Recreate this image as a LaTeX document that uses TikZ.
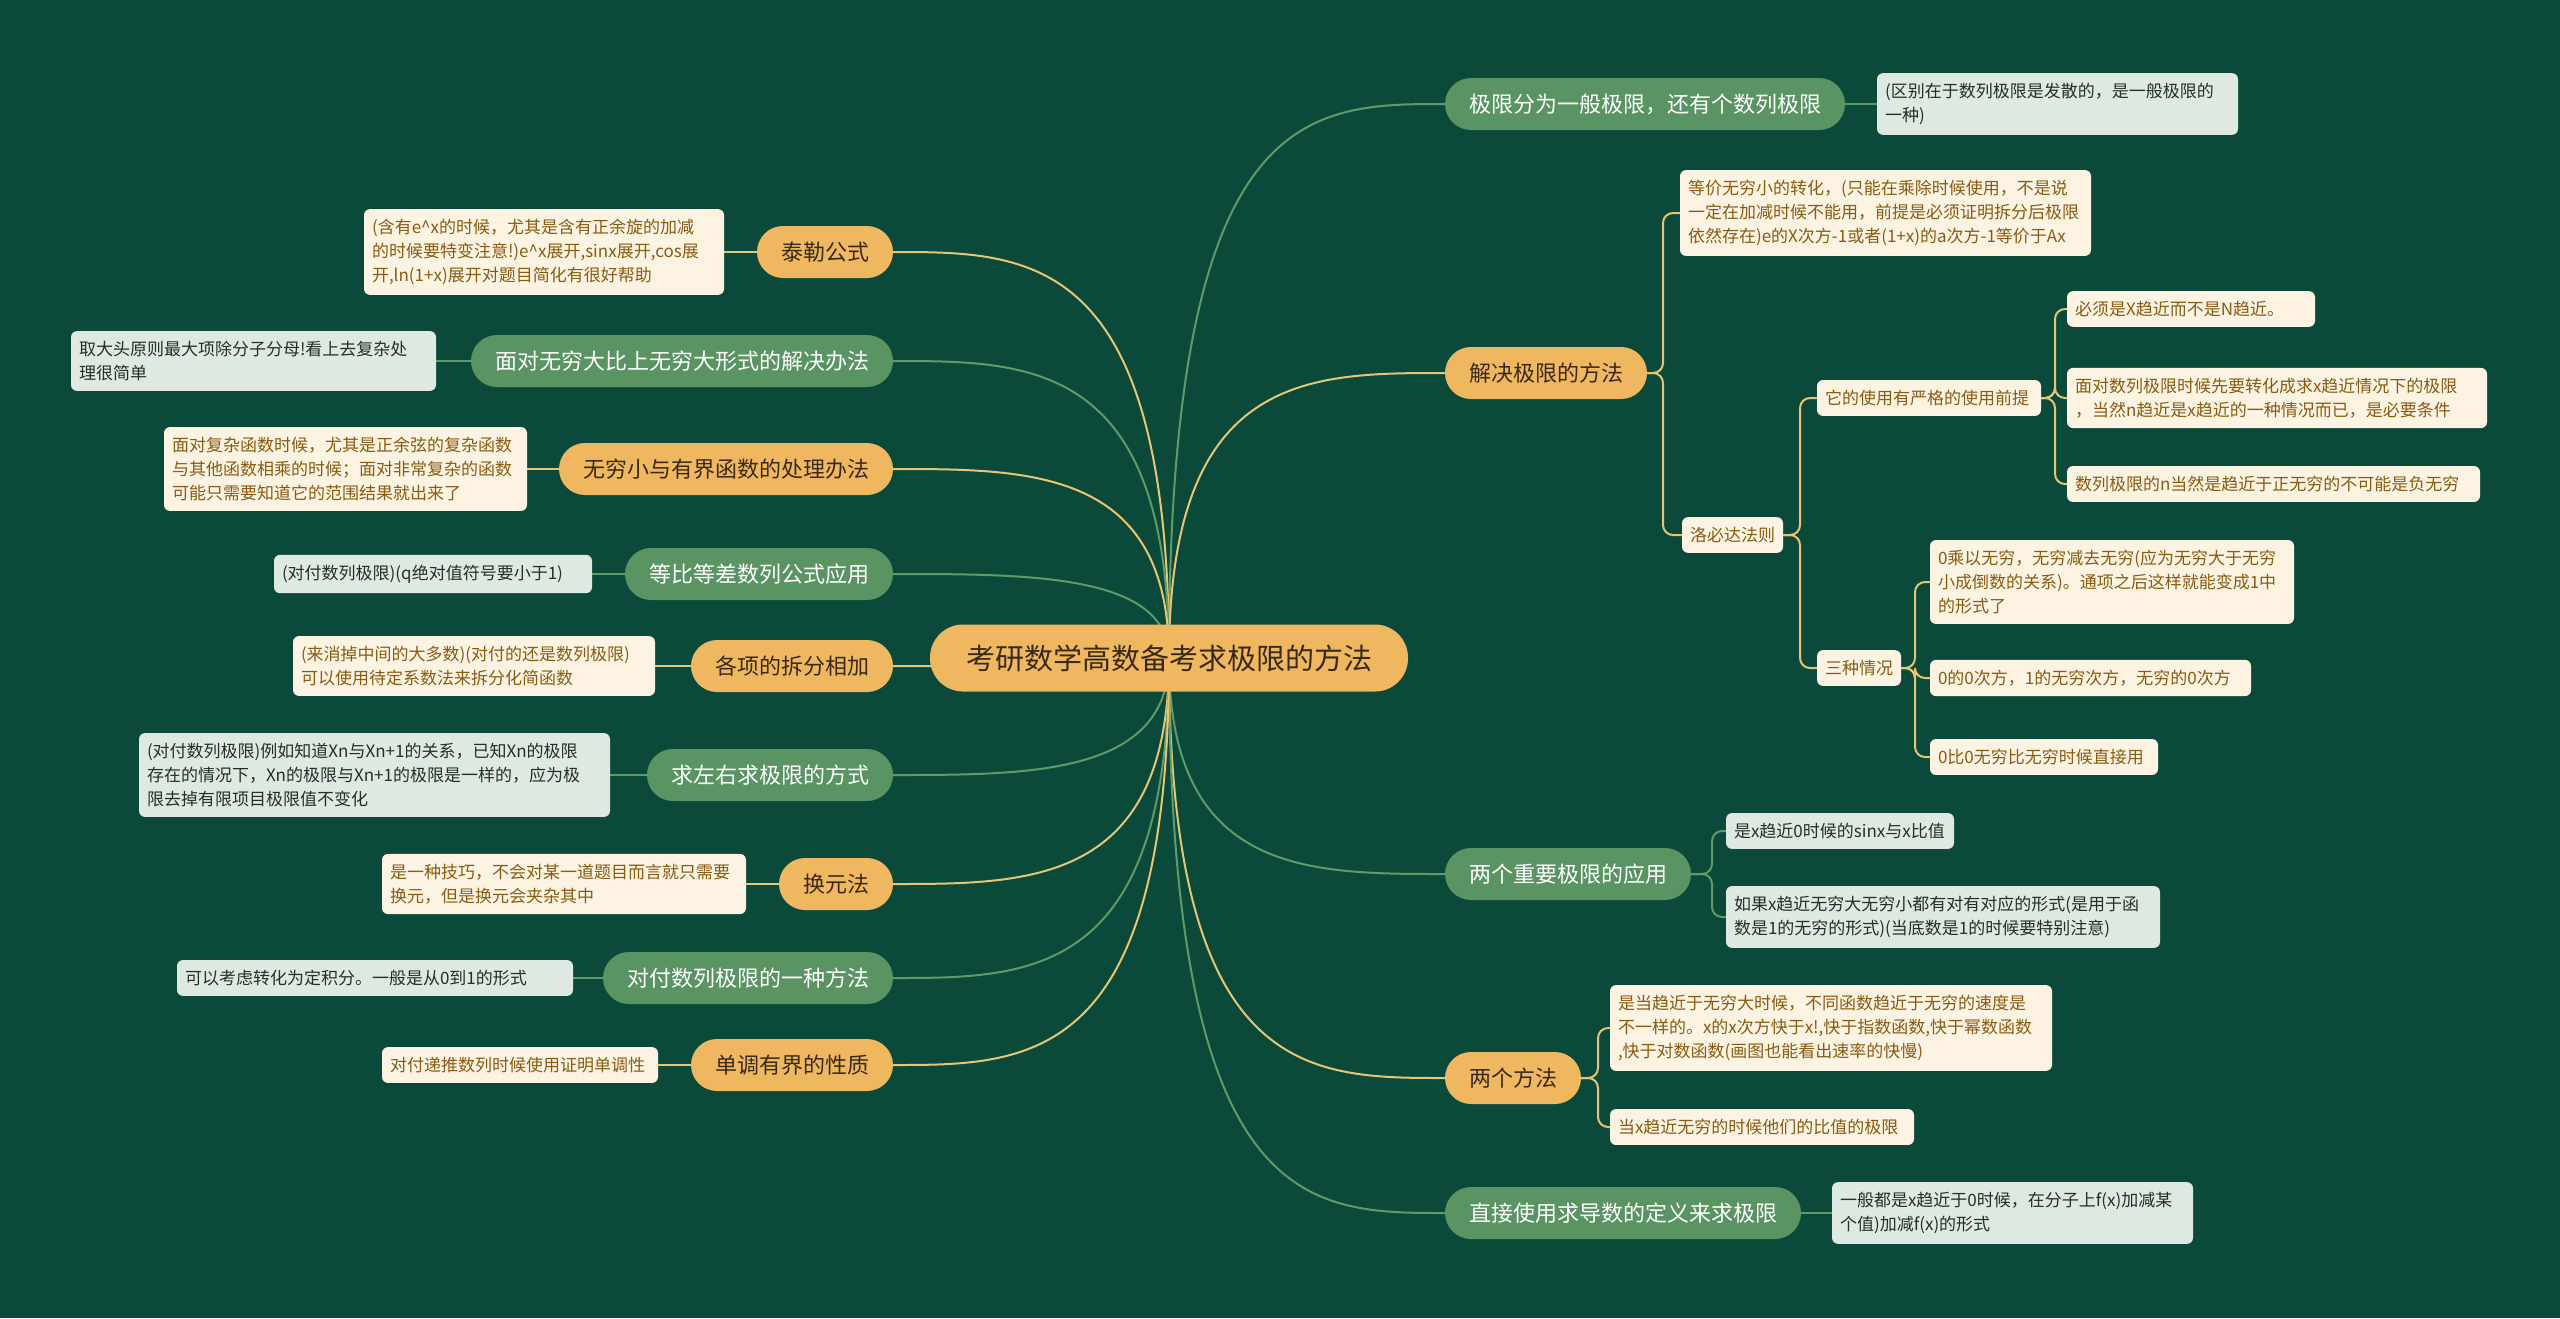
\documentclass[tikz,border=0pt]{standalone}
\usepackage{fontspec}
\setmainfont{Noto Sans CJK SC}
\usetikzlibrary{positioning,calc,backgrounds}
\definecolor{board}{HTML}{0B4A3A}
\definecolor{gold}{HTML}{EFB760}
\definecolor{goldline}{HTML}{E6C574}
\definecolor{leaf}{HTML}{5A9463}
\definecolor{leafline}{HTML}{5E9B68}
\definecolor{cream}{HTML}{FCF3E3}
\definecolor{creamtext}{HTML}{8A5B12}
\definecolor{mint}{HTML}{DEE9E1}
\definecolor{minttext}{HTML}{22302A}
\definecolor{ink}{HTML}{3A2A14}
\newcommand{\fontat}[2]{\fontsize{#1}{#2}\selectfont}

\begin{document}
\begin{tikzpicture}[x=1pt, y=-1pt,
  every node/.style={inner sep=0pt, outer sep=0pt},
  rootbox/.style={fill=gold, text=ink, rounded corners=33pt,
                  minimum height=67pt, inner xsep=36pt, font=\fontat{29}{34}},
  obranch/.style={fill=gold, text=ink, rounded corners=26pt,
                  minimum height=52pt, inner xsep=24pt, font=\fontat{22}{26}},
  gbranch/.style={obranch, fill=leaf, text=white},
  onote/.style={fill=cream, text=creamtext, rounded corners=6pt, align=left,
                inner xsep=8pt, inner ysep=10pt, font=\fontat{17}{24}},
  gnote/.style={onote, fill=mint, text=minttext},
  oline/.style={draw=goldline, line width=2pt},
  gline/.style={draw=leafline, line width=2pt},
  fork/.style={rounded corners=10pt}
]
  \node[rootbox] (root) at (1169,658) {考研数学高数备考求极限的方法};

  % right side
  \node[gbranch, anchor=west] (lim) at (1445,104) {极限分为一般极限，还有个数列极限};
  \node[obranch, anchor=west] (solve) at (1445,373) {解决极限的方法};
  \node[gbranch, anchor=west] (twolim) at (1445,874) {两个重要极限的应用};
  \node[obranch, anchor=west] (twoway) at (1445,1078) {两个方法};
  \node[gbranch, anchor=west] (deriv) at (1445,1213) {直接使用求导数的定义来求极限};

  \node[gnote, text width=345pt, right=32pt of lim] (limn)
    {(区别在于数列极限是发散的，是一般极限的\\一种)};
  \node[onote, text width=395pt, anchor=west] (eqv) at (1680,213)
    {等价无穷小的转化，(只能在乘除时候使用，不是说\\一定在加减时候不能用，前提是必须证明拆分后极限\\依然存在)e的X次方-1或者(1+x)的a次方-1等价于Ax};
  \node[onote, text width=85pt, anchor=west] (lhop) at (1682,535) {洛必达法则};
  \node[onote, text width=208pt, anchor=west] (cond) at (1817,398) {它的使用有严格的使用前提};
  \node[onote, text width=232pt, anchor=west] (cond1) at (2067,309) {必须是X趋近而不是N趋近。};
  \node[onote, text width=404pt, anchor=west] (cond2) at (2067,398)
    {面对数列极限时候先要转化成求x趋近情况下的极限\\，当然n趋近是x趋近的一种情况而已，是必要条件};
  \node[onote, text width=397pt, anchor=west] (cond3) at (2067,484) {数列极限的n当然是趋近于正无穷的不可能是负无穷};
  \node[onote, text width=68pt, anchor=west] (cases) at (1817,668) {三种情况};
  \node[onote, text width=348pt, anchor=west] (case1) at (1930,582)
    {0乘以无穷，无穷减去无穷(应为无穷大于无穷\\小成倒数的关系)。通项之后这样就能变成1中\\的形式了};
  \node[onote, text width=305pt, anchor=west] (case2) at (1930,678) {0的0次方，1的无穷次方，无穷的0次方};
  \node[onote, text width=212pt, anchor=west] (case3) at (1930,757) {0比0无穷比无穷时候直接用};
  \node[gnote, text width=212pt, anchor=west] (sinx) at (1726,831) {是x趋近0时候的sinx与x比值};
  \node[gnote, text width=418pt, anchor=west] (ifx) at (1726,917)
    {如果x趋近无穷大无穷小都有对有对应的形式(是用于函\\数是1的无穷的形式)(当底数是1的时候要特别注意)};
  \node[onote, text width=426pt, anchor=west] (speed) at (1610,1028)
    {是当趋近于无穷大时候，不同函数趋近于无穷的速度是\\不一样的。x的x次方快于x!,快于指数函数,快于幂数函数\\,快于对数函数(画图也能看出速率的快慢)};
  \node[onote, text width=288pt, anchor=west] (ratio) at (1610,1127) {当x趋近无穷的时候他们的比值的极限};
  \node[gnote, text width=345pt, right=31pt of deriv] (derivn)
    {一般都是x趋近于0时候，在分子上f(x)加减某\\个值)加减f(x)的形式};

  % left side
  \node[obranch, anchor=east] (taylor) at (893,252) {泰勒公式};
  \node[gbranch, anchor=east] (infinf) at (893,361) {面对无穷大比上无穷大形式的解决办法};
  \node[obranch, anchor=east] (bounded) at (893,469) {无穷小与有界函数的处理办法};
  \node[gbranch, anchor=east] (series) at (893,574) {等比等差数列公式应用};
  \node[obranch, anchor=east] (split) at (893,666) {各项的拆分相加};
  \node[gbranch, anchor=east] (lr) at (893,775) {求左右求极限的方式};
  \node[obranch, anchor=east] (subst) at (893,884) {换元法};
  \node[gbranch, anchor=east] (integ) at (893,978) {对付数列极限的一种方法};
  \node[obranch, anchor=east] (mono) at (893,1065) {单调有界的性质};

  \node[onote, text width=344pt, left=33pt of taylor] (taylorn)
    {(含有e\textasciicircum x的时候，尤其是含有正余旋的加减\\的时候要特变注意!)e\textasciicircum x展开,sinx展开,cos展\\开,ln(1+x)展开对题目简化有很好帮助};
  \node[gnote, text width=349pt, left=35pt of infinf] (infinfn)
    {取大头原则最大项除分子分母!看上去复杂处\\理很简单};
  \node[onote, text width=347pt, left=32pt of bounded] (boundedn)
    {面对复杂函数时候，尤其是正余弦的复杂函数\\与其他函数相乘的时候；面对非常复杂的函数\\可能只需要知道它的范围结果就出来了};
  \node[gnote, text width=302pt, left=33pt of series] (seriesn) {(对付数列极限)(q绝对值符号要小于1)};
  \node[onote, text width=346pt, left=36pt of split] (splitn)
    {(来消掉中间的大多数)(对付的还是数列极限)\\可以使用待定系数法来拆分化简函数};
  \node[gnote, text width=455pt, left=37pt of lr] (lrn)
    {(对付数列极限)例如知道Xn与Xn+1的关系，已知Xn的极限\\存在的情况下，Xn的极限与Xn+1的极限是一样的，应为极\\限去掉有限项目极限值不变化};
  \node[onote, text width=348pt, left=33pt of subst] (substn)
    {是一种技巧，不会对某一道题目而言就只需要\\换元，但是换元会夹杂其中};
  \node[gnote, text width=380pt, left=30pt of integ] (integn) {可以考虑转化为定积分。一般是从0到1的形式};
  \node[onote, text width=260pt, left=33pt of mono] (monon) {对付递推数列时候使用证明单调性};

  \begin{scope}[on background layer]
    \fill[board] (0,0) rectangle (2560,1318);
    \foreach \b/\s in {lim/gline, solve/oline, twolim/gline, twoway/oline, deriv/gline}
      \draw[\s] (root.center) .. controls (root.center |- \b.west)
        and ($(root.center |- \b.west)!0.5!(\b.west)$) .. (\b.west);
    \foreach \b/\s in {taylor/oline, infinf/gline, bounded/oline, series/gline, split/oline,
                       lr/gline, subst/oline, integ/gline, mono/oline}
      \draw[\s] (root.center) .. controls (root.center |- \b.east)
        and ($(root.center |- \b.east)!0.5!(\b.east)$) .. (\b.east);

    \foreach \c in {eqv, lhop}
      \draw[oline, fork] (solve.east) -- ++(16,0) |- (\c.west);
    \foreach \c in {cond, cases}
      \draw[oline, fork] (lhop.east) -- ++(17,0) |- (\c.west);
    \foreach \c in {cond1, cond2, cond3}
      \draw[oline, fork] (cond.east) -- ++(14,0) |- (\c.west);
    \foreach \c in {case1, case2, case3}
      \draw[oline, fork] (cases.east) -- ++(14,0) |- (\c.west);
    \foreach \c in {sinx, ifx}
      \draw[gline, fork] (twolim.east) -- ++(21,0) |- (\c.west);
    \foreach \c in {speed, ratio}
      \draw[oline, fork] (twoway.east) -- ++(17,0) |- (\c.west);

    \draw[gline] (lim.east) -- (limn.west);
    \draw[gline] (deriv.east) -- (derivn.west);
    \foreach \b/\s in {taylor/oline, infinf/gline, bounded/oline, series/gline, split/oline,
                       lr/gline, subst/oline, integ/gline, mono/oline}
      \draw[\s] (\b.west) -- (\b n.east);
  \end{scope}
\end{tikzpicture}
\end{document}
